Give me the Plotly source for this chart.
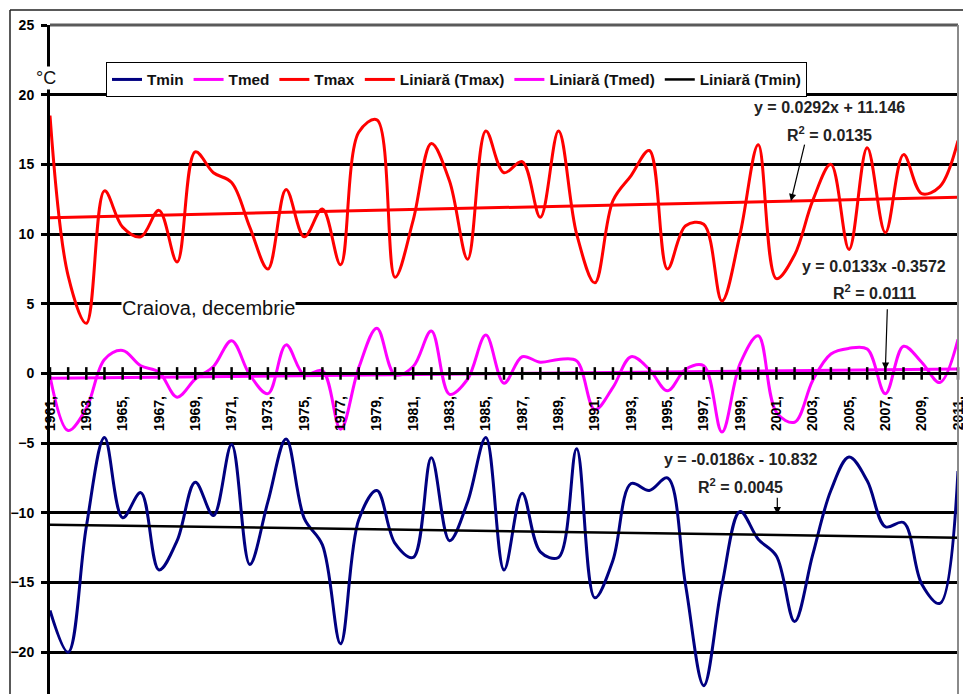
import plotly.graph_objects as go

years = list(range(1961, 2012))
tmax = [18.5, 7.0, 3.6, 13.1, 10.5, 9.8, 11.7, 8.0, 15.9, 14.4,
        13.7, 10.5, 7.5, 13.2, 9.8, 11.8, 7.8, 17.3, 18.2, 6.9,
        11.0, 16.5, 13.8, 8.2, 17.4, 14.4, 15.2, 11.2, 17.4, 10.0,
        6.5, 12.4, 14.2, 16.0, 7.5, 10.6, 10.7, 5.2, 10.0, 16.4,
        6.8, 8.5, 12.4, 15.0, 8.9, 16.2, 10.1, 15.7, 12.9, 13.4, 16.7]
tmed = [-0.2, -4.1, -2.5, 1.0, 1.65, 0.55, 0.1, -1.7, -0.4, 0.5,
        2.35, -0.1, -1.45, 2.05, -0.1, 0.2, -4.0, 0.4, 3.25, -0.1,
        0.5, 3.05, -1.5, -0.4, 2.75, -0.7, 1.2, 0.8, 1.0, 0.9,
        -2.6, -1.0, 1.2, 0.3, -1.25, 0.3, 0.55, -4.2, 0.7, 2.7,
        -2.8, -3.5, -0.5, 1.4, 1.8, 1.75, -1.45, 1.95, 0.8, -0.65, 2.45]
tmin = [-17.0, -20.0, -11.0, -4.6, -10.35, -8.55, -14.1, -12.0, -7.8, -10.2,
        -5.1, -13.7, -9.2, -4.7, -10.4, -12.3, -19.4, -10.5, -8.4, -12.2,
        -13.2, -6.05, -12.0, -9.2, -4.6, -14.1, -8.6, -12.8, -13.2, -5.4,
        -16.1, -13.4, -7.9, -8.4, -7.5, -15.2, -22.4, -15.2, -9.9, -11.9,
        -13.1, -17.8, -13.0, -8.4, -6.0, -7.7, -11.0, -10.7, -15.1, -16.5, -7.0]

# Linear trend coefficients (x = 1..51), as printed on the chart
trend_slope = {"Tmax": 0.0292, "Tmed": 0.0133, "Tmin": -0.0186}
trend_icpt = {"Tmax": 11.146, "Tmed": -0.3572, "Tmin": -10.832}
eq_text = {"Tmax": "y = 0.0292x + 11.146", "Tmed": "y = 0.0133x -0.3572",
           "Tmin": "y = -0.0186x - 10.832"}
r2_text = {"Tmax": "R<sup>2</sup> = 0.0135", "Tmed": "R<sup>2</sup> = 0.0111",
           "Tmin": "R<sup>2</sup> = 0.0045"}

x_labels = [f"{y}," if y % 2 == 1 else "" for y in years]
y_ticks = [-20, -15, -10, -5, 0, 5, 10, 15, 20, 25]

FONT = "Liberation Sans, Arial, sans-serif"
YMIN, YMAX = -23, 25

def trend(name):
    return [trend_slope[name] * (i + 1) + trend_icpt[name] for i in range(len(years))]

fig = go.Figure()
fig.add_trace(go.Scatter(x=years, y=tmin, name="Tmin", mode="lines",
                         line=dict(color="#000080", width=3, shape="spline", smoothing=1.0)))
fig.add_trace(go.Scatter(x=years, y=tmed, name="Tmed", mode="lines",
                         line=dict(color="#FF00FF", width=3, shape="spline", smoothing=1.0)))
fig.add_trace(go.Scatter(x=years, y=tmax, name="Tmax", mode="lines",
                         line=dict(color="#FF0000", width=3, shape="spline", smoothing=1.0)))
fig.add_trace(go.Scatter(x=years, y=trend("Tmax"), name="Liniară (Tmax)", mode="lines",
                         line=dict(color="#FF0000", width=3)))
fig.add_trace(go.Scatter(x=years, y=trend("Tmed"), name="Liniară (Tmed)", mode="lines",
                         line=dict(color="#FF00FF", width=3)))
fig.add_trace(go.Scatter(x=years, y=trend("Tmin"), name="Liniară (Tmin)", mode="lines",
                         line=dict(color="#000000", width=2.5)))
# crossing tick marks on the category axis (at y = 0)
fig.add_trace(go.Scatter(x=years, y=[0] * len(years), mode="markers", showlegend=False,
                         hoverinfo="skip", cliponaxis=False,
                         marker=dict(symbol="line-ns", size=9,
                                     line=dict(color="black", width=2.5))))

annos = []
def add_eq(name, xe, ye, xr, yr):
    annos.append(dict(x=xe, y=ye, text=eq_text[name], showarrow=False,
                      font=dict(family=FONT, size=16, color="#222", weight="bold")))
    annos.append(dict(x=xr, y=yr, text=r2_text[name], showarrow=False,
                      font=dict(family=FONT, size=16, color="#222", weight="bold")))

add_eq("Tmax", 2003.9, 19.05, 2003.9, 17.2)
add_eq("Tmed", 2006.4, 7.7, 2006.4, 5.85)
add_eq("Tmin", 1999.05, -6.2, 1999.05, -8.05)

def arrow(name, xh, ax, ay, yh=None):
    if yh is None:
        yh = trend_slope[name] * (xh - 1960) + trend_icpt[name]
    annos.append(dict(x=xh, y=yh, ax=ax, ay=ay, text="", showarrow=True,
                      arrowhead=2, arrowsize=1.2, arrowwidth=1.2, arrowcolor="black"))

arrow("Tmax", 2001.8, 14, -58)
arrow("Tmed", 2007.0, 2, -62)
arrow("Tmin", 2001.05, 0, -18, yh=-10.1)

annos.append(dict(x=1969.73, y=4.7, text="Craiova, decembrie", showarrow=False,
                  bgcolor="white", borderpad=0,
                  font=dict(family=FONT, size=20, color="#111")))
annos.append(dict(xref="paper", yref="paper", x=-0.0044, y=0.9208, text="°C",
                  xanchor="center", yanchor="middle",
                  showarrow=False, bgcolor="white", borderpad=1,
                  font=dict(family=FONT, size=18, color="#111")))

shapes = [
    # outer chart border (top and left)
    dict(type="line", xref="paper", yref="paper", x0=-0.04405, x1=1.01, y0=1.0224, y1=1.0224,
         line=dict(color="#222", width=1.5)),
    dict(type="line", xref="paper", yref="paper", x0=-0.04405, x1=-0.04405, y0=-0.02, y1=1.0224,
         line=dict(color="#222", width=1.5)),
    # plot-area border (top & right, gray)
    dict(type="line", xref="paper", yref="paper", x0=0, x1=1, y0=1, y1=1,
         line=dict(color="#5a5a5a", width=3)),
    dict(type="line", xref="paper", yref="paper", x0=1, x1=1, y0=0, y1=1,
         line=dict(color="#8a8a8a", width=2)),
]

fig.update_layout(
    width=963, height=694,
    margin=dict(l=50, r=5, t=25, b=0),
    paper_bgcolor="white", plot_bgcolor="white",
    font=dict(family=FONT, color="black"),
    showlegend=True,
    legend=dict(orientation="h", x=0.0617, y=0.9447, xanchor="left", yanchor="top",
                bgcolor="white", bordercolor="black", borderwidth=1,
                font=dict(family=FONT, size=15.3, color="#111", weight="bold"),
                itemwidth=30, tracegroupgap=0),
    annotations=annos,
    shapes=shapes,
    xaxis=dict(range=[1961, 2011], tickvals=years, ticktext=x_labels, tickangle=-90,
               tickfont=dict(family=FONT, size=14, color="black", weight="bold"),
               ticks="", showgrid=False, zeroline=False, automargin=False,
               showline=True, linecolor="black", linewidth=3,
               anchor="free", position=(0 - YMIN) / (YMAX - YMIN),
               ticklabelstandoff=15, ticklabeloverflow="allow"),
    yaxis=dict(range=[YMIN, YMAX], tickvals=y_ticks,
               tickfont=dict(family=FONT, size=14, color="black", weight="bold"),
               ticks="outside", ticklen=6, tickwidth=3, tickcolor="black",
               showgrid=True, gridcolor="black", gridwidth=3, automargin=False,
               zeroline=False, showline=True, linecolor="black", linewidth=3,
               ticklabelstandoff=4),
)

fig.write_html("out.html", config={"displayModeBar": False},
               post_script="document.body.style.margin='0';document.body.style.overflow='hidden';")
